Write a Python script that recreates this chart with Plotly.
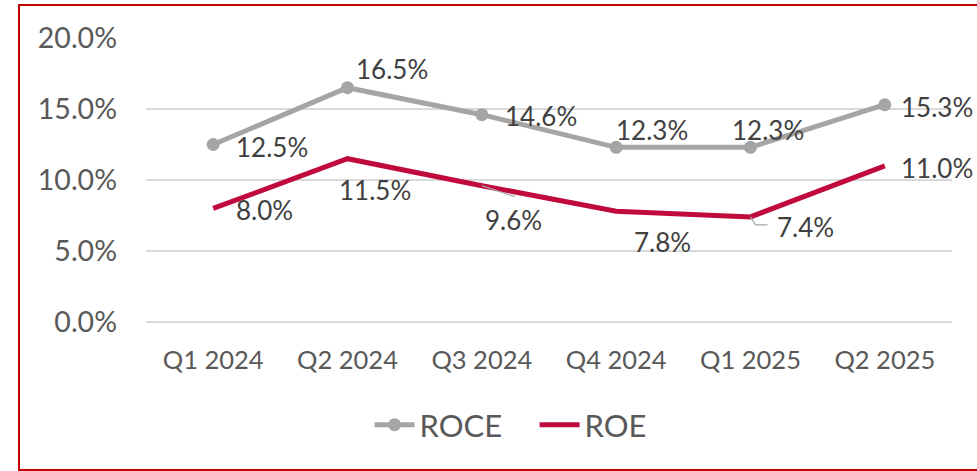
import plotly.graph_objects as go

quarters = ["Q1 2024", "Q2 2024", "Q3 2024", "Q4 2024", "Q1 2025", "Q2 2025"]
roce = [0.125, 0.165, 0.146, 0.123, 0.123, 0.153]
roe = [0.080, 0.115, 0.096, 0.078, 0.074, 0.110]
y_ticks = [0.0, 0.05, 0.10, 0.15, 0.20]

# label offsets (pixels, x right / y up) relative to the data point
roce_label_off = [(59, -2), (44, 19), (59, -1), (36, 17), (17, 17), (52, -2)]
roe_label_off = [(51, -2), (27, -31), (32, -34), (46, -31), (55, -10), (52, -2)]

GRAY = "#A5A5A5"
RED = "#C00A3E"
TXT = "#595959"
LBL = "#404040"
FONT = "Lato"

fig = go.Figure()
fig.add_trace(go.Scatter(
    x=quarters, y=roce, name="ROCE", mode="lines+markers",
    line=dict(color=GRAY, width=5), marker=dict(size=13, color=GRAY),
))
fig.add_trace(go.Scatter(
    x=quarters, y=roe, name="ROE", mode="lines",
    line=dict(color=RED, width=5),
))

annotations = []
for series, offs in ((roce, roce_label_off), (roe, roe_label_off)):
    for q, v, (dx, dy) in zip(quarters, series, offs):
        annotations.append(dict(
            x=q, y=v, xref="x", yref="y", text=f"{v*100:.1f}%",
            showarrow=False, xshift=dx, yshift=dy,
            font=dict(family=FONT, size=26, color=LBL),
        ))

shapes = [
    # leader line for ROE Q3 label
    dict(type="line", xref="x", yref="y", xsizemode="pixel", ysizemode="pixel",
         xanchor=quarters[2], yanchor=roe[2], x0=0, y0=0, x1=33, y1=-11,
         line=dict(color="#A6A6A6", width=1.2)),
    # leader line for ROE Q1 2025 label
    dict(type="path", xref="x", yref="y", xsizemode="pixel", ysizemode="pixel",
         xanchor=quarters[4], yanchor=roe[4], path="M0,0 L5,-8 L17,-8",
         line=dict(color="#A6A6A6", width=1.2)),
    # chart border
    dict(type="rect", xref="paper", yref="paper",
         x0=-0.1576, x1=1.04, y0=-0.521, y1=1.116,
         line=dict(color="#C00000", width=2), layer="below"),
]

fig.update_layout(
    width=977, height=471,
    margin=dict(l=146, r=25, t=38, b=149),
    paper_bgcolor="white", plot_bgcolor="white",
    font=dict(family=FONT, color=TXT),
    showlegend=True,
    legend=dict(orientation="h", x=0.2774, xanchor="left", y=-0.363, yanchor="middle",
                font=dict(family=FONT, size=31, color=TXT), itemwidth=40,
                entrywidth=110, entrywidthmode="pixels",
                bgcolor="rgba(0,0,0,0)"),
    xaxis=dict(showgrid=False, showline=False, zeroline=False, ticks="",
               tickfont=dict(family=FONT, size=25.5, color=TXT), ticklabelstandoff=20,
               range=[-0.5, 5.5]),
    yaxis=dict(range=[0, 0.2], tickvals=y_ticks, tickformat=".1%",
               showgrid=True, gridcolor="#D9D9D9", gridwidth=1.5,
               zeroline=True, zerolinecolor="#D9D9D9", zerolinewidth=1.5,
               showline=False, ticks="",
               tickfont=dict(family=FONT, size=28.5, color=TXT), ticklabelstandoff=28),
    annotations=annotations,
    shapes=shapes,
)

fig.write_html("out.html", config={"displayModeBar": False},
               post_script="document.body.style.margin='0';document.body.style.overflow='hidden';")
